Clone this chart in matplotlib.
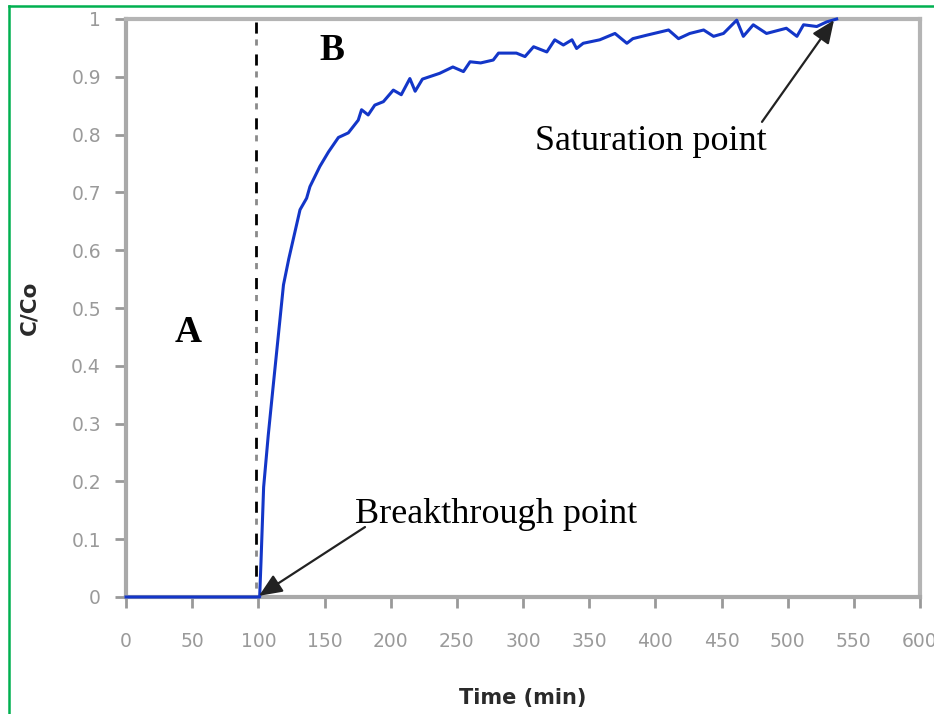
import matplotlib
matplotlib.use("Agg")
import matplotlib.pyplot as plt
from matplotlib.lines import Line2D

# Breakthrough curve: outlet/inlet concentration ratio vs time
time_min = [0, 101, 102, 104, 107.5, 111, 115, 119, 123, 128, 131.5, 136.5, 139,
            146.5, 153, 160.5, 168, 175.5, 178, 183, 188, 194.5, 202, 208, 214.5,
            218.5, 224, 237, 247, 255, 260, 268, 277.5, 281.5, 295, 301.5, 308, 318,
            324, 330.5, 337, 340.5, 345.5, 358, 369.5, 378.5, 383, 393.5, 410, 417.5,
            426, 436.5, 444, 451.5, 461.5, 466.5, 474, 484, 499, 507, 512, 522,
            529.5, 537]
c_over_co = [0, 0, 0.06, 0.19, 0.28, 0.36, 0.45, 0.54, 0.585, 0.635, 0.67, 0.69, 0.71,
             0.745, 0.77, 0.795, 0.803, 0.825, 0.843, 0.834, 0.851, 0.857, 0.877, 0.869,
             0.897, 0.875, 0.896, 0.906, 0.917, 0.909, 0.926, 0.924, 0.929, 0.941, 0.941,
             0.935, 0.952, 0.943, 0.964, 0.955, 0.964, 0.949, 0.958, 0.964, 0.975,
             0.958, 0.966, 0.972, 0.981, 0.966, 0.975, 0.981, 0.970, 0.975, 0.998,
             0.970, 0.990, 0.975, 0.984, 0.970, 0.990, 0.987, 0.995, 1.0]

x_ticks = [0, 50, 100, 150, 200, 250, 300, 350, 400, 450, 500, 550, 600]
y_ticks = [0, 0.1, 0.2, 0.3, 0.4, 0.5, 0.6, 0.7, 0.8, 0.9, 1.0]
y_tick_labels = ["0", "0.1", "0.2", "0.3", "0.4", "0.5", "0.6", "0.7", "0.8", "0.9", "1"]

breakthrough_time = 98
breakthrough_pt = (100.5, 0.002)
saturation_pt = (535, 0.998)

fig = plt.figure(figsize=(9.34, 7.14), dpi=100)
ax = fig.add_axes([126 / 934, 1 - 597 / 714, (920 - 126) / 934, (597 - 19) / 714])

axis_grey = "#a9a9a9"
for side in ["left", "right", "top", "bottom"]:
    ax.spines[side].set_color(axis_grey)
    ax.spines[side].set_linewidth(3)
ax.spines["top"].set_color("#b4b4b4")
ax.spines["right"].set_color("#b4b4b4")

ax.plot(time_min, c_over_co, color="#1336c8", lw=2.2, zorder=3, clip_on=False)

# separator between zone A and zone B: black dash followed by a grey dot
ax.plot([breakthrough_time, breakthrough_time], [0.995, 0], color="black", lw=2,
        linestyle=(0, (4, 7.5)), zorder=2)
ax.plot([breakthrough_time, breakthrough_time], [0.995, 0], color="#8a8a8a", lw=2,
        linestyle=(5.4, (2.2, 9.3)), zorder=2)

ax.set_xlim(0, 600)
ax.set_ylim(0, 1)
ax.set_xticks(x_ticks)
ax.set_yticks(y_ticks)
ax.set_yticklabels(y_tick_labels)
ax.tick_params(axis="both", direction="out", length=8, width=2, color="#999999",
               labelcolor="#9a9a9a", labelsize=13.5)
ax.tick_params(axis="x", pad=17)
ax.tick_params(axis="y", pad=10)

ax.set_xlabel("Time (min)", fontsize=15, fontweight="bold", color="#2a2a2a", labelpad=27)
ax.set_ylabel("C/Co", fontsize=15.5, fontweight="bold", color="#2a2a2a", labelpad=23)

serif = ["Liberation Serif", "DejaVu Serif"]
ax.text(46.9, 0.457, "A", fontsize=27, fontweight="bold", family=serif,
        ha="center", va="center")
ax.text(155.7, 0.946, "B", fontsize=27, fontweight="bold", family=serif,
        ha="center", va="center")

ax.text(309, 0.773, "Saturation point", fontsize=26, family=serif,
        ha="left", va="baseline")
ax.text(173, 0.128, "Breakthrough point", fontsize=26, family=serif,
        ha="left", va="baseline")

arrow_kw = dict(arrowstyle="-|>,head_length=0.7,head_width=0.3", color="#222222",
                lw=1.6, mutation_scale=20, shrinkA=0, shrinkB=0)
ax.annotate("", xy=saturation_pt, xytext=(480.6, 0.822), arrowprops=arrow_kw,
            annotation_clip=False)
ax.annotate("", xy=breakthrough_pt, xytext=(180.6, 0.121), arrowprops=arrow_kw,
            annotation_clip=False)

# green frame around the figure (left and top edges)
green = "#00b050"
fig.add_artist(Line2D([8.5 / 934, 8.5 / 934], [1 - 5.7 / 714, 0], color=green, lw=1.8,
                      transform=fig.transFigure))
fig.add_artist(Line2D([8.5 / 934, 1], [1 - 5.7 / 714, 1 - 5.7 / 714], color=green, lw=1.8,
                      transform=fig.transFigure))

fig.savefig("out.png", dpi=100)
